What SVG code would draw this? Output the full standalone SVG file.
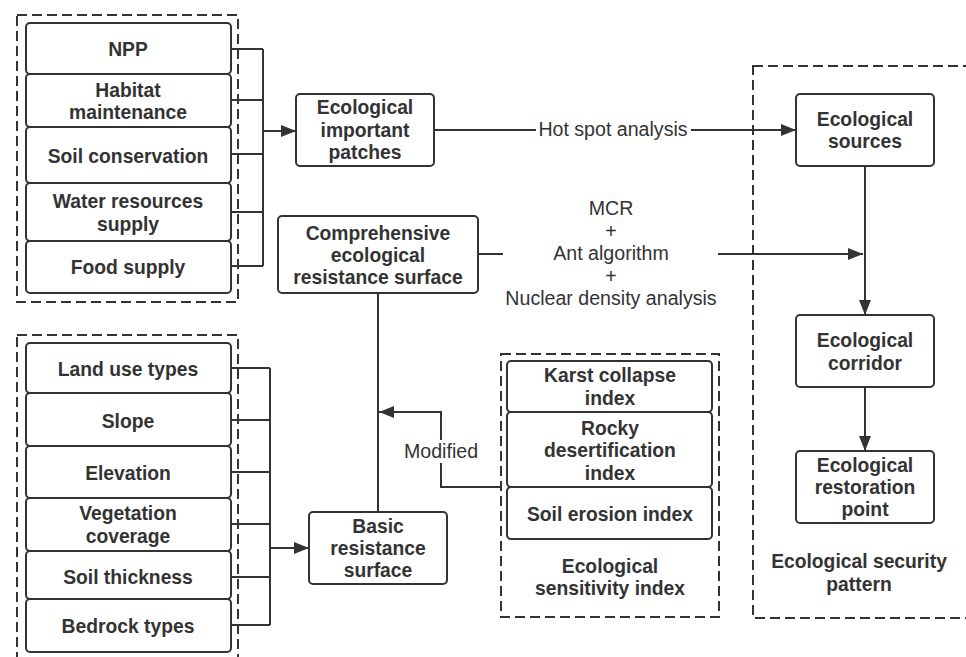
<svg xmlns="http://www.w3.org/2000/svg" width="966" height="657" viewBox="0 0 966 657">
<defs>
<marker id="arr" markerUnits="userSpaceOnUse" markerWidth="15" markerHeight="12" refX="15" refY="6" orient="auto">
<path d="M0,0 L15,6 L0,12 z" fill="#333"/>
</marker>
<style>
.box{fill:#fff;stroke:#333;stroke-width:2}
.dash{fill:none;stroke:#333;stroke-width:2;stroke-dasharray:10,5}
.ln{fill:none;stroke:#333;stroke-width:2}
.b{font-family:"Liberation Sans",Arial,sans-serif;font-weight:bold;font-size:19.3px;fill:#333;text-anchor:middle}
.r{font-family:"Liberation Sans",Arial,sans-serif;font-size:19.6px;fill:#333;text-anchor:middle}
</style>
</defs>
<rect width="966" height="657" fill="#fff"/>

<g id="groups">
<rect class="dash" x="17" y="15" width="221" height="287"/>
<rect class="dash" x="17" y="335" width="221" height="340"/>
<rect class="dash" x="501" y="354" width="218" height="263"/>
<rect class="dash" x="753" y="66" width="240" height="552"/>
</g>

<g id="connectors">
<path class="ln" d="M231,49 H263 M231,100 H263 M231,154 H263 M231,212 H263 M231,266 H263 M263,49 V266"/>
<path class="ln" d="M263,131 H296" marker-end="url(#arr)"/>
<path class="ln" d="M434,130 H536"/>
<path class="ln" d="M691,130 H796" marker-end="url(#arr)"/>
<path class="ln" d="M478,254 H503"/>
<path class="ln" d="M718,254 H863" marker-end="url(#arr)"/>
<path class="ln" d="M865,166 V315" marker-end="url(#arr)"/>
<path class="ln" d="M865,387 V451" marker-end="url(#arr)"/>
<path class="ln" d="M378,293 V512"/>
<path class="ln" d="M501,487 H441 V463"/>
<path class="ln" d="M441,440 V412 H379" marker-end="url(#arr)"/>
<path class="ln" d="M231,368 H270 M231,420 H270 M231,472 H270 M231,524 H270 M231,577 H270 M231,625 H270 M270,368 V625"/>
<path class="ln" d="M270,548 H309" marker-end="url(#arr)"/>
<text class="r" x="613" y="136">Hot spot analysis</text>
<text class="r"><tspan x="611" y="215">MCR</tspan><tspan x="611" y="238">+</tspan><tspan x="611" y="260">Ant algorithm</tspan><tspan x="611" y="283">+</tspan><tspan x="611" y="305">Nuclear density analysis</tspan></text>
<text class="r" x="441" y="458">Modified</text>
</g>

<g id="npp"><rect class="box" x="26" y="23" width="205" height="51" rx="4"/><text class="b" x="128" y="56">NPP</text></g>
<g id="habitat"><rect class="box" x="26" y="74" width="205" height="53" rx="4"/><text class="b"><tspan x="128" y="97">Habitat</tspan><tspan x="128" y="119">maintenance</tspan></text></g>
<g id="soilcons"><rect class="box" x="26" y="127" width="205" height="56" rx="4"/><text class="b" x="128" y="163">Soil conservation</text></g>
<g id="water"><rect class="box" x="26" y="183" width="205" height="58" rx="4"/><text class="b"><tspan x="128" y="208">Water resources</tspan><tspan x="128" y="231">supply</tspan></text></g>
<g id="food"><rect class="box" x="26" y="241" width="205" height="52" rx="4"/><text class="b" x="128" y="274">Food supply</text></g>

<g id="landuse"><rect class="box" x="26" y="343" width="205" height="50" rx="4"/><text class="b" x="128" y="376">Land use types</text></g>
<g id="slope"><rect class="box" x="26" y="393" width="205" height="53" rx="4"/><text class="b" x="128" y="428">Slope</text></g>
<g id="elevation"><rect class="box" x="26" y="446" width="205" height="52" rx="4"/><text class="b" x="128" y="480">Elevation</text></g>
<g id="vegetation"><rect class="box" x="26" y="498" width="205" height="53" rx="4"/><text class="b"><tspan x="128" y="520">Vegetation</tspan><tspan x="128" y="543">coverage</tspan></text></g>
<g id="soilthick"><rect class="box" x="26" y="551" width="205" height="48" rx="4"/><text class="b" x="128" y="584">Soil thickness</text></g>
<g id="bedrock"><rect class="box" x="26" y="599" width="205" height="53" rx="4"/><text class="b" x="128" y="633">Bedrock types</text></g>

<g id="patches"><rect class="box" x="296" y="94" width="138" height="72" rx="4"/><text class="b"><tspan x="365" y="114">Ecological</tspan><tspan x="365" y="137">important</tspan><tspan x="365" y="159">patches</tspan></text></g>
<g id="comprehensive"><rect class="box" x="278" y="216" width="200" height="77" rx="4"/><text class="b"><tspan x="378" y="240">Comprehensive</tspan><tspan x="378" y="262">ecological</tspan><tspan x="378" y="284">resistance surface</tspan></text></g>
<g id="basic"><rect class="box" x="309" y="512" width="138" height="72" rx="4"/><text class="b"><tspan x="378" y="533">Basic</tspan><tspan x="378" y="555">resistance</tspan><tspan x="378" y="577">surface</tspan></text></g>

<g id="karst"><rect class="box" x="507" y="361" width="205" height="51" rx="4"/><text class="b"><tspan x="610" y="382">Karst collapse</tspan><tspan x="610" y="405">index</tspan></text></g>
<g id="rocky"><rect class="box" x="507" y="412" width="205" height="75" rx="4"/><text class="b"><tspan x="610" y="435">Rocky</tspan><tspan x="610" y="457">desertification</tspan><tspan x="610" y="480">index</tspan></text></g>
<g id="erosion"><rect class="box" x="507" y="487" width="205" height="52" rx="4"/><text class="b" x="610" y="521">Soil erosion index</text></g>
<g id="sensitivity-label"><text class="b"><tspan x="610" y="573">Ecological</tspan><tspan x="610" y="595">sensitivity index</tspan></text></g>

<g id="sources"><rect class="box" x="796" y="94" width="138" height="72" rx="4"/><text class="b"><tspan x="865" y="126">Ecological</tspan><tspan x="865" y="148">sources</tspan></text></g>
<g id="corridor"><rect class="box" x="796" y="315" width="138" height="72" rx="4"/><text class="b"><tspan x="865" y="347">Ecological</tspan><tspan x="865" y="370">corridor</tspan></text></g>
<g id="restoration"><rect class="box" x="796" y="451" width="138" height="72" rx="4"/><text class="b"><tspan x="865" y="472">Ecological</tspan><tspan x="865" y="494">restoration</tspan><tspan x="865" y="516">point</tspan></text></g>
<g id="security-label"><text class="b"><tspan x="859" y="568">Ecological security</tspan><tspan x="859" y="591">pattern</tspan></text></g>
</svg>
